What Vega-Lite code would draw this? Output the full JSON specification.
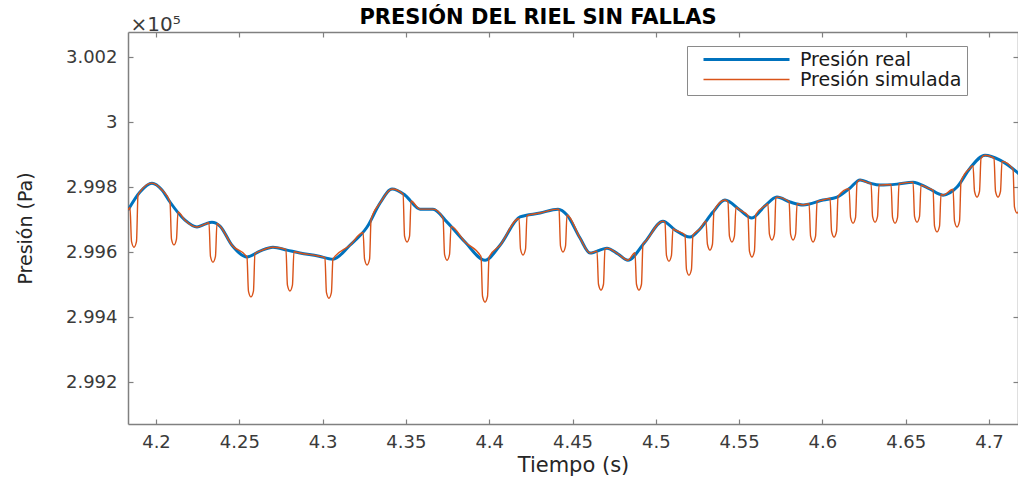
{
  "$schema": "https://vega.github.io/schema/vega-lite/v6.json",
  "width": 890,
  "height": 392,
  "autosize": {"type": "none"},
  "padding": {"left": 128, "top": 32, "right": 0, "bottom": 57},
  "background": "white",
  "config": {
    "view": {"stroke": null},
    "font": "DejaVu Sans",
    "axis": {"labelFont": "DejaVu Sans", "titleFont": "DejaVu Sans", "grid": false, "domainColor": "#808080", "tickColor": "#808080", "domainWidth": 1.5, "tickWidth": 1.2, "labelColor": "#3a3a3a", "titleColor": "#262626", "titleFontWeight": "normal"},
    "legend": {"orient": "none", "legendX": 559, "legendY": 14, "strokeColor": "#8a8a8a", "fillColor": "white", "padding": 5, "symbolType": "stroke", "symbolSize": 7396, "clipHeight": 17, "symbolOffset": 10, "labelOffset": 9, "labelFontSize": 19, "labelLimit": 400, "labelFont": "DejaVu Sans", "labelColor": "#1a1a1a", "rowPadding": 0}
  },
  "title": {"text": "PRESIÓN DEL RIEL SIN FALLAS", "font": "DejaVu Sans", "fontSize": 21, "fontWeight": "bold", "color": "#000000", "anchor": "middle", "frame": "group", "dx": -35, "offset": -14},
  "datasets": {
    "real": [
      {"t":4.1832,"p":299729,"s":"Presión real"},{"t":4.1904,"p":299785,"s":"Presión real"},{"t":4.1976,"p":299812,"s":"Presión real"},{"t":4.2036,"p":299791,"s":"Presión real"},{"t":4.2084,"p":299754,"s":"Presión real"},{"t":4.2174,"p":299698,"s":"Presión real"},{"t":4.2246,"p":299677,"s":"Presión real"},{"t":4.2294,"p":299686,"s":"Presión real"},{"t":4.2336,"p":299692,"s":"Presión real"},{"t":4.2384,"p":299680,"s":"Presión real"},{"t":4.2456,"p":299621,"s":"Presión real"},{"t":4.2546,"p":299585,"s":"Presión real"},{"t":4.2624,"p":299603,"s":"Presión real"},{"t":4.2702,"p":299615,"s":"Presión real"},{"t":4.2786,"p":299606,"s":"Presión real"},{"t":4.2864,"p":299597,"s":"Presión real"},{"t":4.2972,"p":299588,"s":"Presión real"},{"t":4.3062,"p":299578,"s":"Presión real"},{"t":4.3164,"p":299621,"s":"Presión real"},{"t":4.3267,"p":299677,"s":"Presión real"},{"t":4.3345,"p":299751,"s":"Presión real"},{"t":4.3417,"p":299794,"s":"Presión real"},{"t":4.3495,"p":299775,"s":"Presión real"},{"t":4.3585,"p":299732,"s":"Presión real"},{"t":4.3663,"p":299732,"s":"Presión real"},{"t":4.3747,"p":299692,"s":"Presión real"},{"t":4.3855,"p":299631,"s":"Presión real"},{"t":4.3975,"p":299575,"s":"Presión real"},{"t":4.4065,"p":299621,"s":"Presión real"},{"t":4.4185,"p":299708,"s":"Presión real"},{"t":4.4305,"p":299720,"s":"Presión real"},{"t":4.4413,"p":299732,"s":"Presión real"},{"t":4.4467,"p":299714,"s":"Presión real"},{"t":4.4545,"p":299643,"s":"Presión real"},{"t":4.4605,"p":299597,"s":"Presión real"},{"t":4.4707,"p":299612,"s":"Presión real"},{"t":4.4773,"p":299594,"s":"Presión real"},{"t":4.4833,"p":299575,"s":"Presión real"},{"t":4.4935,"p":299631,"s":"Presión real"},{"t":4.5043,"p":299695,"s":"Presión real"},{"t":4.5115,"p":299668,"s":"Presión real"},{"t":4.5205,"p":299646,"s":"Presión real"},{"t":4.5265,"p":299671,"s":"Presión real"},{"t":4.5343,"p":299723,"s":"Presión real"},{"t":4.5415,"p":299760,"s":"Presión real"},{"t":4.5505,"p":299729,"s":"Presión real"},{"t":4.5577,"p":299705,"s":"Presión real"},{"t":4.5655,"p":299742,"s":"Presión real"},{"t":4.5727,"p":299769,"s":"Presión real"},{"t":4.5806,"p":299754,"s":"Presión real"},{"t":4.5884,"p":299745,"s":"Presión real"},{"t":4.6004,"p":299760,"s":"Presión real"},{"t":4.6088,"p":299769,"s":"Presión real"},{"t":4.6166,"p":299797,"s":"Presión real"},{"t":4.6226,"p":299822,"s":"Presión real"},{"t":4.6286,"p":299812,"s":"Presión real"},{"t":4.6346,"p":299806,"s":"Presión real"},{"t":4.6448,"p":299809,"s":"Presión real"},{"t":4.6544,"p":299815,"s":"Presión real"},{"t":4.6634,"p":299797,"s":"Presión real"},{"t":4.6724,"p":299775,"s":"Presión real"},{"t":4.6808,"p":299800,"s":"Presión real"},{"t":4.6886,"p":299858,"s":"Presión real"},{"t":4.6976,"p":299898,"s":"Presión real"},{"t":4.7066,"p":299883,"s":"Presión real"},{"t":4.7168,"p":299846,"s":"Presión real"},{"t":4.7186,"p":299838,"s":"Presión real"}
    ],
    "sim": [
      {"t":4.1832,"p":299729,"s":"Presión simulada"},
      {"t":4.1844,"p":299738,"s":"Presión simulada"},{"t":4.1853,"p":299633,"s":"Presión simulada"},{"t":4.1868,"p":299615,"s":"Presión simulada"},{"t":4.1883,"p":299633,"s":"Presión simulada"},{"t":4.1892,"p":299775,"s":"Presión simulada"},
      {"t":4.1904,"p":299785,"s":"Presión simulada"},{"t":4.1976,"p":299812,"s":"Presión simulada"},{"t":4.2036,"p":299791,"s":"Presión simulada"},
      {"t":4.2084,"p":299754,"s":"Presión simulada"},{"t":4.2093,"p":299640,"s":"Presión simulada"},{"t":4.2108,"p":299622,"s":"Presión simulada"},{"t":4.2123,"p":299640,"s":"Presión simulada"},{"t":4.2132,"p":299723,"s":"Presión simulada"},
      {"t":4.2174,"p":299698,"s":"Presión simulada"},{"t":4.2246,"p":299677,"s":"Presión simulada"},{"t":4.2294,"p":299686,"s":"Presión simulada"},
      {"t":4.2318,"p":299690,"s":"Presión simulada"},{"t":4.2327,"p":299587,"s":"Presión simulada"},{"t":4.2342,"p":299569,"s":"Presión simulada"},{"t":4.2357,"p":299587,"s":"Presión simulada"},{"t":4.2366,"p":299688,"s":"Presión simulada"},
      {"t":4.2384,"p":299680,"s":"Presión simulada"},{"t":4.2456,"p":299621,"s":"Presión simulada"},
      {"t":4.2546,"p":299585,"s":"Presión simulada"},{"t":4.2555,"p":299480,"s":"Presión simulada"},{"t":4.2570,"p":299462,"s":"Presión simulada"},{"t":4.2585,"p":299480,"s":"Presión simulada"},{"t":4.2594,"p":299595,"s":"Presión simulada"},
      {"t":4.2624,"p":299603,"s":"Presión simulada"},{"t":4.2702,"p":299615,"s":"Presión simulada"},
      {"t":4.2780,"p":299608,"s":"Presión simulada"},{"t":4.2789,"p":299498,"s":"Presión simulada"},{"t":4.2804,"p":299480,"s":"Presión simulada"},{"t":4.2819,"p":299498,"s":"Presión simulada"},{"t":4.2828,"p":299601,"s":"Presión simulada"},
      {"t":4.2864,"p":299597,"s":"Presión simulada"},{"t":4.2972,"p":299588,"s":"Presión simulada"},
      {"t":4.3014,"p":299583,"s":"Presión simulada"},{"t":4.3023,"p":299476,"s":"Presión simulada"},{"t":4.3038,"p":299458,"s":"Presión simulada"},{"t":4.3053,"p":299476,"s":"Presión simulada"},{"t":4.3062,"p":299578,"s":"Presión simulada"},
      {"t":4.3164,"p":299621,"s":"Presión simulada"},
      {"t":4.3243,"p":299660,"s":"Presión simulada"},{"t":4.3252,"p":299578,"s":"Presión simulada"},{"t":4.3267,"p":299560,"s":"Presión simulada"},{"t":4.3282,"p":299578,"s":"Presión simulada"},{"t":4.3291,"p":299700,"s":"Presión simulada"},
      {"t":4.3345,"p":299751,"s":"Presión simulada"},{"t":4.3417,"p":299794,"s":"Presión simulada"},
      {"t":4.3483,"p":299778,"s":"Presión simulada"},{"t":4.3492,"p":299649,"s":"Presión simulada"},{"t":4.3507,"p":299631,"s":"Presión simulada"},{"t":4.3522,"p":299649,"s":"Presión simulada"},{"t":4.3531,"p":299757,"s":"Presión simulada"},
      {"t":4.3585,"p":299732,"s":"Presión simulada"},{"t":4.3663,"p":299732,"s":"Presión simulada"},
      {"t":4.3723,"p":299704,"s":"Presión simulada"},{"t":4.3732,"p":299593,"s":"Presión simulada"},{"t":4.3747,"p":299575,"s":"Presión simulada"},{"t":4.3762,"p":299593,"s":"Presión simulada"},{"t":4.3771,"p":299679,"s":"Presión simulada"},
      {"t":4.3855,"p":299631,"s":"Presión simulada"},
      {"t":4.3951,"p":299586,"s":"Presión simulada"},{"t":4.3960,"p":299464,"s":"Presión simulada"},{"t":4.3975,"p":299446,"s":"Presión simulada"},{"t":4.3990,"p":299464,"s":"Presión simulada"},{"t":4.3999,"p":299584,"s":"Presión simulada"},
      {"t":4.4065,"p":299621,"s":"Presión simulada"},
      {"t":4.4179,"p":299703,"s":"Presión simulada"},{"t":4.4188,"p":299609,"s":"Presión simulada"},{"t":4.4203,"p":299591,"s":"Presión simulada"},{"t":4.4218,"p":299609,"s":"Presión simulada"},{"t":4.4227,"p":299712,"s":"Presión simulada"},
      {"t":4.4305,"p":299720,"s":"Presión simulada"},{"t":4.4413,"p":299732,"s":"Presión simulada"},
      {"t":4.4419,"p":299730,"s":"Presión simulada"},{"t":4.4428,"p":299618,"s":"Presión simulada"},{"t":4.4443,"p":299600,"s":"Presión simulada"},{"t":4.4458,"p":299618,"s":"Presión simulada"},{"t":4.4467,"p":299714,"s":"Presión simulada"},
      {"t":4.4545,"p":299643,"s":"Presión simulada"},{"t":4.4605,"p":299597,"s":"Presión simulada"},
      {"t":4.4647,"p":299603,"s":"Presión simulada"},{"t":4.4656,"p":299501,"s":"Presión simulada"},{"t":4.4671,"p":299483,"s":"Presión simulada"},{"t":4.4686,"p":299501,"s":"Presión simulada"},{"t":4.4695,"p":299610,"s":"Presión simulada"},
      {"t":4.4707,"p":299612,"s":"Presión simulada"},{"t":4.4773,"p":299594,"s":"Presión simulada"},{"t":4.4833,"p":299575,"s":"Presión simulada"},
      {"t":4.4875,"p":299598,"s":"Presión simulada"},{"t":4.4884,"p":299501,"s":"Presión simulada"},{"t":4.4899,"p":299483,"s":"Presión simulada"},{"t":4.4914,"p":299501,"s":"Presión simulada"},{"t":4.4923,"p":299625,"s":"Presión simulada"},
      {"t":4.4935,"p":299631,"s":"Presión simulada"},{"t":4.5043,"p":299695,"s":"Presión simulada"},
      {"t":4.5055,"p":299691,"s":"Presión simulada"},{"t":4.5064,"p":299590,"s":"Presión simulada"},{"t":4.5079,"p":299572,"s":"Presión simulada"},{"t":4.5094,"p":299590,"s":"Presión simulada"},{"t":4.5103,"p":299672,"s":"Presión simulada"},
      {"t":4.5115,"p":299668,"s":"Presión simulada"},
      {"t":4.5175,"p":299653,"s":"Presión simulada"},{"t":4.5184,"p":299547,"s":"Presión simulada"},{"t":4.5199,"p":299529,"s":"Presión simulada"},{"t":4.5214,"p":299547,"s":"Presión simulada"},{"t":4.5223,"p":299652,"s":"Presión simulada"},
      {"t":4.5265,"p":299671,"s":"Presión simulada"},
      {"t":4.5301,"p":299695,"s":"Presión simulada"},{"t":4.5310,"p":299624,"s":"Presión simulada"},{"t":4.5325,"p":299606,"s":"Presión simulada"},{"t":4.5340,"p":299624,"s":"Presión simulada"},{"t":4.5349,"p":299726,"s":"Presión simulada"},
      {"t":4.5415,"p":299760,"s":"Presión simulada"},
      {"t":4.5433,"p":299754,"s":"Presión simulada"},{"t":4.5442,"p":299649,"s":"Presión simulada"},{"t":4.5457,"p":299631,"s":"Presión simulada"},{"t":4.5472,"p":299649,"s":"Presión simulada"},{"t":4.5481,"p":299738,"s":"Presión simulada"},
      {"t":4.5505,"p":299729,"s":"Presión simulada"},
      {"t":4.5553,"p":299713,"s":"Presión simulada"},{"t":4.5562,"p":299603,"s":"Presión simulada"},{"t":4.5577,"p":299585,"s":"Presión simulada"},{"t":4.5592,"p":299603,"s":"Presión simulada"},{"t":4.5601,"p":299716,"s":"Presión simulada"},
      {"t":4.5655,"p":299742,"s":"Presión simulada"},
      {"t":4.5673,"p":299748,"s":"Presión simulada"},{"t":4.5682,"p":299655,"s":"Presión simulada"},{"t":4.5697,"p":299637,"s":"Presión simulada"},{"t":4.5712,"p":299655,"s":"Presión simulada"},{"t":4.5721,"p":299767,"s":"Presión simulada"},
      {"t":4.5727,"p":299769,"s":"Presión simulada"},
      {"t":4.5800,"p":299755,"s":"Presión simulada"},{"t":4.5809,"p":299655,"s":"Presión simulada"},{"t":4.5824,"p":299637,"s":"Presión simulada"},{"t":4.5839,"p":299655,"s":"Presión simulada"},{"t":4.5848,"p":299749,"s":"Presión simulada"},
      {"t":4.5884,"p":299745,"s":"Presión simulada"},
      {"t":4.5920,"p":299749,"s":"Presión simulada"},{"t":4.5929,"p":299649,"s":"Presión simulada"},{"t":4.5944,"p":299631,"s":"Presión simulada"},{"t":4.5959,"p":299649,"s":"Presión simulada"},{"t":4.5968,"p":299755,"s":"Presión simulada"},
      {"t":4.6004,"p":299760,"s":"Presión simulada"},
      {"t":4.6046,"p":299765,"s":"Presión simulada"},{"t":4.6055,"p":299664,"s":"Presión simulada"},{"t":4.6070,"p":299646,"s":"Presión simulada"},{"t":4.6085,"p":299664,"s":"Presión simulada"},{"t":4.6094,"p":299771,"s":"Presión simulada"},
      {"t":4.6160,"p":299795,"s":"Presión simulada"},{"t":4.6169,"p":299707,"s":"Presión simulada"},{"t":4.6184,"p":299689,"s":"Presión simulada"},{"t":4.6199,"p":299707,"s":"Presión simulada"},{"t":4.6208,"p":299814,"s":"Presión simulada"},
      {"t":4.6226,"p":299822,"s":"Presión simulada"},{"t":4.6286,"p":299812,"s":"Presión simulada"},
      {"t":4.6292,"p":299812,"s":"Presión simulada"},{"t":4.6301,"p":299710,"s":"Presión simulada"},{"t":4.6316,"p":299692,"s":"Presión simulada"},{"t":4.6331,"p":299710,"s":"Presión simulada"},{"t":4.6340,"p":299807,"s":"Presión simulada"},
      {"t":4.6346,"p":299806,"s":"Presión simulada"},
      {"t":4.6412,"p":299808,"s":"Presión simulada"},{"t":4.6421,"p":299707,"s":"Presión simulada"},{"t":4.6436,"p":299689,"s":"Presión simulada"},{"t":4.6451,"p":299707,"s":"Presión simulada"},{"t":4.6460,"p":299810,"s":"Presión simulada"},
      {"t":4.6544,"p":299815,"s":"Presión simulada"},{"t":4.6553,"p":299710,"s":"Presión simulada"},{"t":4.6568,"p":299692,"s":"Presión simulada"},{"t":4.6583,"p":299710,"s":"Presión simulada"},{"t":4.6592,"p":299806,"s":"Presión simulada"},
      {"t":4.6634,"p":299797,"s":"Presión simulada"},
      {"t":4.6664,"p":299790,"s":"Presión simulada"},{"t":4.6673,"p":299680,"s":"Presión simulada"},{"t":4.6688,"p":299662,"s":"Presión simulada"},{"t":4.6703,"p":299680,"s":"Presión simulada"},{"t":4.6712,"p":299778,"s":"Presión simulada"},
      {"t":4.6724,"p":299775,"s":"Presión simulada"},
      {"t":4.6784,"p":299793,"s":"Presión simulada"},{"t":4.6793,"p":299695,"s":"Presión simulada"},{"t":4.6808,"p":299677,"s":"Presión simulada"},{"t":4.6823,"p":299695,"s":"Presión simulada"},{"t":4.6832,"p":299818,"s":"Presión simulada"},
      {"t":4.6886,"p":299858,"s":"Presión simulada"},
      {"t":4.6904,"p":299866,"s":"Presión simulada"},{"t":4.6913,"p":299787,"s":"Presión simulada"},{"t":4.6928,"p":299769,"s":"Presión simulada"},{"t":4.6943,"p":299787,"s":"Presión simulada"},{"t":4.6952,"p":299888,"s":"Presión simulada"},
      {"t":4.6976,"p":299898,"s":"Presión simulada"},
      {"t":4.7030,"p":299889,"s":"Presión simulada"},{"t":4.7039,"p":299787,"s":"Presión simulada"},{"t":4.7054,"p":299769,"s":"Presión simulada"},{"t":4.7069,"p":299787,"s":"Presión simulada"},{"t":4.7078,"p":299879,"s":"Presión simulada"},
      {"t":4.7144,"p":299855,"s":"Presión simulada"},{"t":4.7153,"p":299738,"s":"Presión simulada"},{"t":4.7168,"p":299720,"s":"Presión simulada"},{"t":4.7183,"p":299738,"s":"Presión simulada"},{"t":4.7192,"p":299850,"s":"Presión simulada"}
    ]
  },
  "layer": [
    {
      "data": {"name": "real"},
      "mark": {"type": "line", "interpolate": "monotone", "clip": true},
      "encoding": {
        "x": {"field": "t", "type": "quantitative", "scale": {"domain": [4.1832, 4.7174], "nice": false, "zero": false},
          "axis": {"orient": "bottom", "values": [4.2, 4.25, 4.3, 4.35, 4.4, 4.45, 4.5, 4.55, 4.6, 4.65, 4.7], "format": ".2~f", "title": "Tiempo (s)", "titleFontSize": 21, "labelFontSize": 18, "tickSize": -5, "labelPadding": 14, "titlePadding": 3}},
        "y": {"field": "p", "type": "quantitative", "scale": {"domain": [299071, 300277], "nice": false, "zero": false},
          "axis": {"orient": "left", "values": [299200, 299400, 299600, 299800, 300000, 300200], "labelExpr": "format(datum.value/100000, '.3~f')", "title": "Presión (Pa)", "titleFontSize": 19, "labelFontSize": 18, "tickSize": -5, "labelPadding": 16, "titlePadding": 30}},
        "color": {"field": "s", "type": "nominal", "scale": {"domain": ["Presión real", "Presión simulada"], "range": ["#0072BD", "#D95319"]}, "legend": {"title": null}},
        "strokeWidth": {"field": "s", "type": "nominal", "scale": {"domain": ["Presión real", "Presión simulada"], "range": [3, 1.4]}, "legend": {"title": null}}
      }
    },
    {
      "data": {"name": "sim"},
      "mark": {"type": "line", "interpolate": "monotone", "clip": true},
      "encoding": {
        "x": {"field": "t", "type": "quantitative",
          "axis": {"orient": "top", "values": [4.2, 4.25, 4.3, 4.35, 4.4, 4.45, 4.5, 4.55, 4.6, 4.65, 4.7], "labels": false, "tickSize": -5, "title": "×10⁵", "titleAnchor": "start", "titleAlign": "left", "titleAngle": 0, "titleX": 2, "titleY": -2, "titleBaseline": "alphabetic", "titleFontSize": 20, "titleColor": "#3a3a3a"}},
        "y": {"field": "p", "type": "quantitative",
          "axis": {"orient": "right", "values": [299200, 299400, 299600, 299800, 300000, 300200], "labels": false, "tickSize": -5, "title": null}},
        "color": {"field": "s", "type": "nominal", "legend": {"title": null}},
        "strokeWidth": {"field": "s", "type": "nominal", "legend": {"title": null}}
      }
    }
  ],
  "resolve": {"axis": {"x": "independent", "y": "independent"}}
}
